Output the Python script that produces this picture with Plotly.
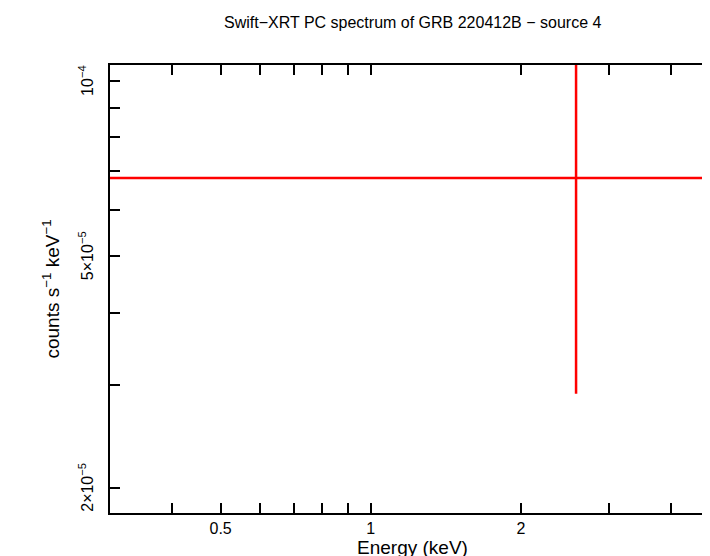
import plotly.graph_objects as go
import math

energy = [2.58]
rate = [6.81e-5]
e_lo = [2.3]
e_hi = [3.0]
r_lo = [3.91e-5]
r_hi = [1.0e-4]

x_major = [0.5, 1, 2]
x_major_text = ["0.5", "1", "2"]
x_minor = [0.3, 0.4, 0.6, 0.7, 0.8, 0.9, 3, 4]
y_ticks = [2e-5, 3e-5, 4e-5, 5e-5, 6e-5, 7e-5, 8e-5, 9e-5, 1e-4]
y_labels = {2e-5: "2×10<sup>−5</sup>", 5e-5: "5×10<sup>−5</sup>", 1e-4: "10<sup>−4</sup>"}

red = "#ff0000"
fig = go.Figure()
fig.add_trace(go.Scatter(
    x=energy, y=rate, mode="markers", marker=dict(size=0.1, color=red),
    error_x=dict(type="data", symmetric=False, array=e_hi, arrayminus=e_lo, color=red, thickness=2.5, width=0),
    error_y=dict(type="data", symmetric=False, array=r_hi, arrayminus=r_lo, color=red, thickness=2.5, width=0),
    showlegend=False))

font = dict(family="Liberation Sans, Arial, sans-serif", size=16, color="black")
ax = dict(type="log", showgrid=False, zeroline=False, showline=True, linecolor="black", linewidth=2,
          mirror="allticks", ticks="inside", tickcolor="black", tickwidth=1.5)
fig.update_layout(
    width=710, height=556, plot_bgcolor="white", paper_bgcolor="white", font=font,
    margin=dict(l=102, r=3, t=57, b=51, autoexpand=False),
    title=dict(text="Swift−XRT PC spectrum of GRB 220412B − source 4", x=0.57, xanchor="center", y=0.985, yanchor="top", font=dict(size=16)),
    xaxis=dict(**ax, range=[math.log10(0.3), math.log10(4.9)],
               tickvals=x_major + x_minor, ticktext=x_major_text + [""] * len(x_minor), ticklen=10,
               title=dict(text="Energy (keV)", standoff=0)),
    yaxis=dict(**ax, range=[math.log10(1.81e-5), math.log10(1.065e-4)],
               tickvals=y_ticks, ticktext=[""] * len(y_ticks), ticklen=10,
               title=dict(text="counts s<sup>−1</sup> keV<sup>−1</sup>", standoff=40)),
)
for v, t in y_labels.items():
    fig.add_annotation(x=0, xref="paper", xanchor="right", xshift=-12, y=math.log10(v), yref="y",
                       text=t, showarrow=False, textangle=-90, font=dict(size=16))
fig.write_html("out.html")
